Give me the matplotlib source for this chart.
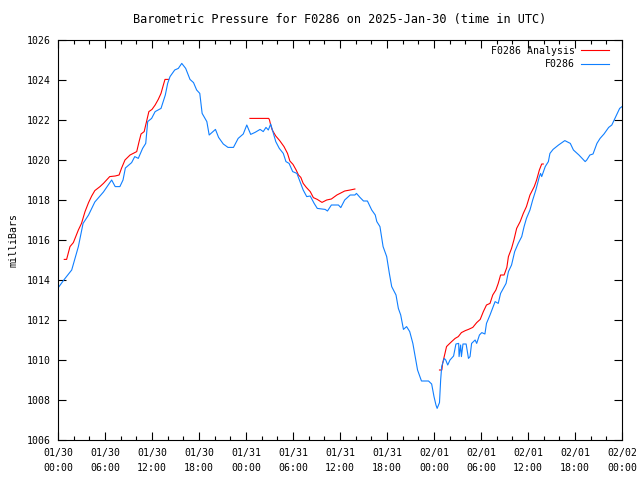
import matplotlib
matplotlib.use("Agg")
import matplotlib.pyplot as plt
import numpy as np

# ====== Data (hours since 2025-01-30 00:00 UTC, millibars) ======
station_hours = [0, 0.8, 1.75, 2.6, 3.2, 3.9, 4.7, 5.8, 6.85, 7.3, 7.9, 8.3, 8.6, 9.4, 9.8,
                 10.25, 10.8, 11.2, 11.45, 11.95, 12.4, 13.15, 13.7, 14.0, 14.3, 14.9, 15.36,
                 15.8, 16.3, 16.85, 17.3, 17.7, 18.1, 18.4, 19.0, 19.3, 20.1, 20.5, 21.1, 21.7,
                 22.4, 23.0, 23.65, 24.1, 24.6, 25.15, 25.8, 26.2, 26.55, 26.85, 27.15, 27.5,
                 27.8, 28.25, 28.76, 29.1, 29.5, 29.96, 30.5, 30.9, 31.3, 31.75, 32.2, 32.7,
                 33.1, 34.1, 34.4, 34.9, 35.8, 36.1, 36.6, 37.3, 37.9, 38.1, 38.55, 39.0, 39.5,
                 40.05, 40.5, 40.7, 41.1, 41.5, 41.96, 42.3, 42.6, 43.15, 43.45, 43.75, 44.1,
                 44.5, 44.9, 45.3, 45.6, 45.9, 46.2, 46.4, 47.3, 47.7, 48.0, 48.25, 48.4, 48.7,
                 48.85, 48.98, 49.3, 49.5, 49.75, 50.04, 50.5, 50.8, 51.15, 51.2, 51.4, 51.5,
                 51.7, 52.1, 52.4, 52.6, 52.8, 53.25, 53.45, 53.8, 54.1, 54.5, 54.7, 55.15,
                 55.55, 55.8, 56.2, 56.5, 56.85, 57.2, 57.5, 57.9, 58.3, 58.75, 59.2, 59.5,
                 59.8, 60.25, 60.6, 61.0, 61.45, 61.6, 61.75, 62.2, 62.6, 62.8, 63.2, 63.9,
                 64.7, 65.4, 65.8, 66.5, 67.3, 67.5, 67.9, 68.3, 68.8, 69.2, 69.7, 70.3, 70.7,
                 71.1, 71.7, 72.0]
station_mb = [1013.6, 1014.03, 1014.5, 1015.67, 1016.83, 1017.25, 1017.9, 1018.4, 1019.0,
              1018.67, 1018.67, 1019.0, 1019.6, 1019.87, 1020.17, 1020.08, 1020.58, 1020.83,
              1021.92, 1022.08, 1022.42, 1022.58, 1023.25, 1023.83, 1024.17, 1024.5, 1024.58,
              1024.83, 1024.58, 1024.03, 1023.87, 1023.5, 1023.33, 1022.33, 1021.92, 1021.25,
              1021.53, 1021.13, 1020.8, 1020.63, 1020.63, 1021.08, 1021.3, 1021.75, 1021.28,
              1021.38, 1021.53, 1021.42, 1021.63, 1021.5, 1021.8, 1021.33, 1020.92, 1020.58,
              1020.33, 1019.92, 1019.83, 1019.42, 1019.33, 1018.92, 1018.5, 1018.17, 1018.2,
              1017.83, 1017.58, 1017.53, 1017.45, 1017.75, 1017.75, 1017.62, 1018.0, 1018.25,
              1018.25, 1018.33, 1018.13, 1017.95, 1017.95, 1017.5, 1017.25, 1016.92, 1016.67,
              1015.67, 1015.17, 1014.33, 1013.67, 1013.25, 1012.58, 1012.25, 1011.53, 1011.67,
              1011.42, 1010.83, 1010.17, 1009.5, 1009.17, 1008.95, 1008.95, 1008.8, 1008.17,
              1007.75, 1007.58, 1007.87, 1009.0, 1009.67, 1010.08, 1010.0, 1009.75, 1010.0,
              1010.2, 1010.8, 1010.83, 1010.17, 1010.75, 1010.17, 1010.8, 1010.8, 1010.08,
              1010.17, 1010.83, 1011.0, 1010.83, 1011.25, 1011.37, 1011.3, 1011.83, 1012.25,
              1012.67, 1012.92, 1012.83, 1013.33, 1013.58, 1013.83, 1014.42, 1014.75, 1015.42,
              1015.83, 1016.17, 1016.67, 1017.08, 1017.5, 1018.0, 1018.5, 1019.17, 1019.33,
              1019.17, 1019.67, 1019.92, 1020.33, 1020.53, 1020.75, 1020.97, 1020.83, 1020.5,
              1020.25, 1019.92, 1020.0, 1020.25, 1020.3, 1020.83, 1021.08, 1021.3, 1021.63,
              1021.75, 1022.08, 1022.58, 1022.67]

# analysis comes in three separate runs
analysis1_hours = [0.8, 1.1, 1.53, 1.96, 2.6, 3.0, 3.45, 3.9, 4.3, 4.7, 5.36, 5.8, 6.2, 6.6,
                   7.3, 7.8, 8.1, 8.55, 9.2, 9.8, 10.05, 10.35, 10.6, 11.0, 11.3, 11.6, 12.0,
                   12.4, 12.8, 13.15, 13.45, 13.66, 14.1]
analysis1_mb = [1015.03, 1015.03, 1015.67, 1015.87, 1016.5, 1016.83, 1017.42, 1017.87, 1018.2,
                1018.47, 1018.67, 1018.83, 1019.0, 1019.17, 1019.2, 1019.25, 1019.58, 1020.0,
                1020.25, 1020.37, 1020.42, 1020.92, 1021.3, 1021.42, 1021.92, 1022.42, 1022.53,
                1022.75, 1023.03, 1023.33, 1023.75, 1024.03, 1024.03]
analysis2_hours = [24.5, 26.9, 27.0, 27.15, 27.35, 27.8, 28.3, 28.85, 29.3, 29.6, 30.0, 30.4,
                   30.7, 31.0, 31.3, 31.7, 32.2, 32.6, 33.1, 33.7, 34.3, 34.9, 35.6, 36.0, 36.6,
                   37.3, 37.9]
analysis2_mb = [1022.08, 1022.08, 1022.0, 1021.75, 1021.5, 1021.2, 1020.97, 1020.67, 1020.33,
                1019.95, 1019.78, 1019.5, 1019.25, 1019.13, 1018.83, 1018.63, 1018.42, 1018.12,
                1018.03, 1017.88, 1018.0, 1018.05, 1018.25, 1018.33, 1018.45, 1018.5, 1018.55]
analysis3_hours = [48.7, 49.0, 49.1, 49.4, 49.6, 49.8, 50.25, 50.7, 51.1, 51.5, 52.0, 52.4,
                   52.95, 53.45, 53.9, 54.3, 54.7, 55.15, 55.5, 55.9, 56.2, 56.5, 56.95, 57.3,
                   57.5, 57.9, 58.2, 58.55, 59.0, 59.4, 59.8, 60.25, 60.8, 61.1, 61.45, 61.75,
                   61.95]
analysis3_mb = [1009.5, 1009.5, 1009.83, 1010.33, 1010.67, 1010.75, 1010.92, 1011.08, 1011.17,
                1011.37, 1011.47, 1011.53, 1011.63, 1011.87, 1012.03, 1012.42, 1012.75, 1012.83,
                1013.25, 1013.5, 1013.83, 1014.25, 1014.25, 1014.63, 1015.17, 1015.58, 1016.0,
                1016.58, 1016.92, 1017.33, 1017.67, 1018.25, 1018.67, 1019.0, 1019.5, 1019.8,
                1019.8]

tick_labels = ["01/30\n00:00", "01/30\n06:00", "01/30\n12:00", "01/30\n18:00",
               "01/31\n00:00", "01/31\n06:00", "01/31\n12:00", "01/31\n18:00",
               "02/01\n00:00", "02/01\n06:00", "02/01\n12:00", "02/01\n18:00",
               "02/02\n00:00"]

assert len(station_hours) == len(station_mb)
assert len(analysis1_hours) == len(analysis1_mb)
assert len(analysis2_hours) == len(analysis2_mb)
assert len(analysis3_hours) == len(analysis3_mb)

# ====== Plot ======
plt.rcParams['font.family'] = 'DejaVu Sans Mono'
plt.rcParams['font.size'] = 7.1

fig = plt.figure(figsize=(6.4, 4.8), dpi=100)
ax = fig.add_axes([58/640, 40/480, 564/640, 400/480])

red = '#ff0000'
blue = '#0f7fff'
ax.plot(analysis1_hours, analysis1_mb, color=red, lw=0.8, label="F0286 Analysis")
ax.plot(analysis2_hours, analysis2_mb, color=red, lw=0.8)
ax.plot(analysis3_hours, analysis3_mb, color=red, lw=0.8)
ax.plot(station_hours, station_mb, color=blue, lw=0.8, label="F0286")

ax.set_xlim(0, 72)
ax.set_ylim(1006, 1026)
ax.set_xticks(np.arange(0, 73, 6))
ax.set_xticklabels(tick_labels, linespacing=1.55)
ax.set_xticks(np.arange(0, 73, 2), minor=True)
ax.set_yticks(np.arange(1006, 1027, 2))

ax.tick_params(which='both', direction='in', top=True, right=True, width=0.8)
ax.tick_params(which='major', length=6)
ax.tick_params(which='minor', length=3)
ax.tick_params(axis='x', which='major', pad=6)
ax.tick_params(axis='y', which='major', pad=5)
for s in ax.spines.values():
    s.set_linewidth(0.8)

ax.set_title("Barometric Pressure for F0286 on 2025-Jan-30 (time in UTC)", pad=12)
ax.set_ylabel("milliBars", labelpad=6)

leg = ax.legend(loc='upper right', bbox_to_anchor=(0.984, 0.995), frameon=False,
                markerfirst=False, handlelength=2.8, handletextpad=0.7,
                borderaxespad=0, labelspacing=0.35)

fig.savefig("out.png", dpi=100)
